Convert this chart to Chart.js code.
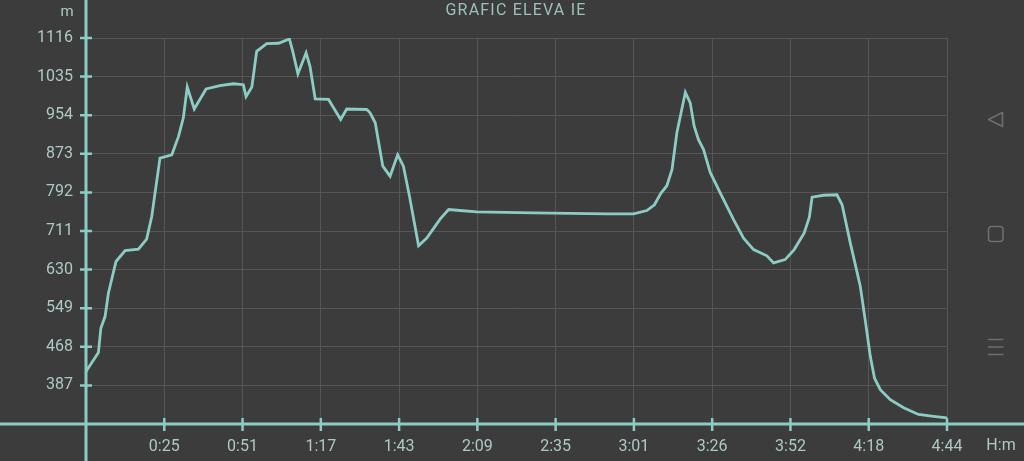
<!DOCTYPE html>
<html>
<head>
<meta charset="utf-8">
<script src="https://cdn.jsdelivr.net/npm/chart.js@4/dist/chart.umd.min.js"></script>
<style>
  html, body { margin: 0; padding: 0; background: #3c3c3c; overflow: hidden; }
  #wrap { width: 1024px; height: 461px; }
</style>
</head>
<body>
<div id="wrap"><canvas id="c" width="1024" height="461"></canvas></div>
<script>
// ---- data ----
const title = 'GRAFIC ELEVA IE';
const yUnit = 'm';
const xUnit = 'H:m';
const minutes = [0, 4.1, 4.9, 6.3, 7.4, 9.9, 12.9, 17.3, 20.0, 21.7, 24.4, 28.3, 30.5, 32.1, 33.4, 35.7, 39.6, 44.2, 48.6, 51.9, 52.8, 54.7, 56.3, 59.6, 63.5, 67.1, 68.2, 69.9, 72.6, 73.9, 75.6, 80.0, 84.0, 86.0, 92.6, 93.7, 95.4, 97.9, 100.3, 102.8, 104.7, 106.7, 109.7, 112.4, 116.8, 119.6, 123.4, 128.9, 147.6, 171.8, 180.6, 185.0, 187.5, 189.6, 191.6, 193.3, 194.9, 197.7, 199.3, 200.6, 202.0, 203.7, 205.9, 209.2, 213.6, 216.9, 220.2, 224.6, 226.8, 230.6, 233.6, 236.9, 238.6, 239.5, 243.3, 247.7, 249.4, 252.1, 255.4, 257.0, 258.7, 260.1, 262.0, 265.3, 269.7, 274.6, 279.6, 284];
const elevation = [416, 456, 507, 532, 581, 647, 670, 673, 694, 742, 864, 871, 909, 948, 1013, 967, 1009, 1016, 1020, 1018, 993, 1013, 1088, 1104, 1105, 1114, 1088, 1041, 1085, 1056, 988, 987, 945, 967, 966, 959, 938, 847, 826, 871, 847, 784, 680, 696, 736, 756, 754, 751, 749, 747, 747, 754, 766, 790, 806, 840, 917, 1002, 980, 931, 903, 882, 834, 791, 735, 696, 672, 659, 644, 651, 672, 707, 740, 782, 786, 787, 766, 686, 595, 525, 448, 402, 378, 357, 340, 326, 322, 319];
const yTicks = [387, 468, 549, 630, 711, 792, 873, 954, 1035, 1116];
const xTickLabels = ['0:25', '0:51', '1:17', '1:43', '2:09', '2:35', '3:01', '3:26', '3:52', '4:18', '4:44'];
const xMax = 284;   // 4:44 in minutes
const yMin = 306, yMax = 1116;

const xTickValues = xTickLabels.map((l, i) => (i + 1) * xMax / xTickLabels.length);
const points = minutes.map((m, i) => ({ x: m, y: elevation[i] }));

const FONT = 'Roboto, "Noto Sans", sans-serif';
const TEAL = '#8cccc3';
const LABEL = '#adc9c5';

const decor = {
  id: 'decor',
  beforeDraw(chart) {
    const ctx = chart.ctx;
    ctx.save();
    ctx.fillStyle = '#3c3c3c';
    ctx.fillRect(0, 0, chart.width, chart.height);
    ctx.restore();
  },
  afterDraw(chart) {
    const ctx = chart.ctx;
    const xs = chart.scales.x, ys = chart.scales.y;
    const ax = xs.getPixelForValue(0);
    const ay = ys.getPixelForValue(yMin);
    ctx.save();
    ctx.strokeStyle = TEAL;
    ctx.lineWidth = 3;
    // axes lines spanning the whole screen
    ctx.beginPath();
    ctx.moveTo(ax, 0); ctx.lineTo(ax, chart.height);
    ctx.moveTo(0, ay); ctx.lineTo(chart.width, ay);
    ctx.stroke();
    // cross tick marks
    ctx.lineWidth = 2.5;
    ctx.beginPath();
    yTicks.forEach(v => { const p = ys.getPixelForValue(v); ctx.moveTo(ax - 6, p); ctx.lineTo(ax + 6, p); });
    xTickValues.forEach(v => { const p = xs.getPixelForValue(v); ctx.moveTo(p, ay - 6); ctx.lineTo(p, ay + 7); });
    ctx.stroke();
    // texts
    ctx.fillStyle = '#9cc0ba';
    ctx.font = '16px ' + FONT;
    ctx.textAlign = 'left';
    ctx.textBaseline = 'middle';
    try { ctx.letterSpacing = '1.2px'; } catch (e) {}
    const tw = ctx.measureText(title).width;
    ctx.fillText(title, 516 - tw / 2, 11);
    try { ctx.letterSpacing = '0px'; } catch (e) {}
    ctx.textAlign = 'center';
    ctx.fillStyle = LABEL;
    ctx.font = '15px ' + FONT;
    ctx.fillText(yUnit, 67, 12);
    ctx.font = '16px ' + FONT;
    ctx.fillText(xUnit, 1001, 446);
    // navigation bar icons
    ctx.strokeStyle = '#6e6e6e';
    ctx.lineWidth = 1.6;
    ctx.lineJoin = 'round';
    ctx.beginPath();
    ctx.moveTo(1002.5, 112.5); ctx.lineTo(988.5, 119.5); ctx.lineTo(1002.5, 126.5); ctx.closePath();
    ctx.stroke();
    ctx.beginPath();
    ctx.roundRect(988.5, 226.5, 14.5, 15, 3);
    ctx.stroke();
    ctx.beginPath();
    [339.5, 347, 354.5].forEach(y => { ctx.moveTo(988, y); ctx.lineTo(1003.5, y); });
    ctx.stroke();
    ctx.restore();
  }
};

new Chart(document.getElementById('c'), {
  type: 'line',
  data: {
    datasets: [{
      data: points,
      borderColor: TEAL,
      borderWidth: 2.8,
      pointRadius: 0,
      tension: 0,
      fill: false
    }]
  },
  options: {
    responsive: false,
    animation: false,
    devicePixelRatio: 1,
    layout: { padding: { left: 0, right: 77, top: 38, bottom: 0 } },
    plugins: { legend: { display: false }, tooltip: { enabled: false }, title: { display: false } },
    scales: {
      x: {
        type: 'linear',
        min: 0, max: xMax,
        afterFit(s) { s.height = 37; },
        afterBuildTicks(s) { s.ticks = xTickValues.map(v => ({ value: v })); },
        border: { display: false },
        grid: { color: '#565656', lineWidth: 1, drawTicks: false },
        ticks: {
          color: LABEL, padding: 13, maxRotation: 0, autoSkip: false,
          font: { family: FONT, size: 16 },
          callback: (v, i) => xTickLabels[i]
        }
      },
      y: {
        type: 'linear',
        min: yMin, max: yMax,
        afterFit(s) { s.width = 86; },
        afterBuildTicks(s) { s.ticks = yTicks.map(v => ({ value: v })); },
        border: { display: false },
        grid: { color: '#565656', lineWidth: 1, drawTicks: false },
        ticks: {
          color: LABEL, padding: 13, autoSkip: false,
          font: { family: FONT, size: 16 },
          callback: (v, i) => String(yTicks[i])
        }
      }
    }
  },
  plugins: [decor]
});
</script>
</body>
</html>
